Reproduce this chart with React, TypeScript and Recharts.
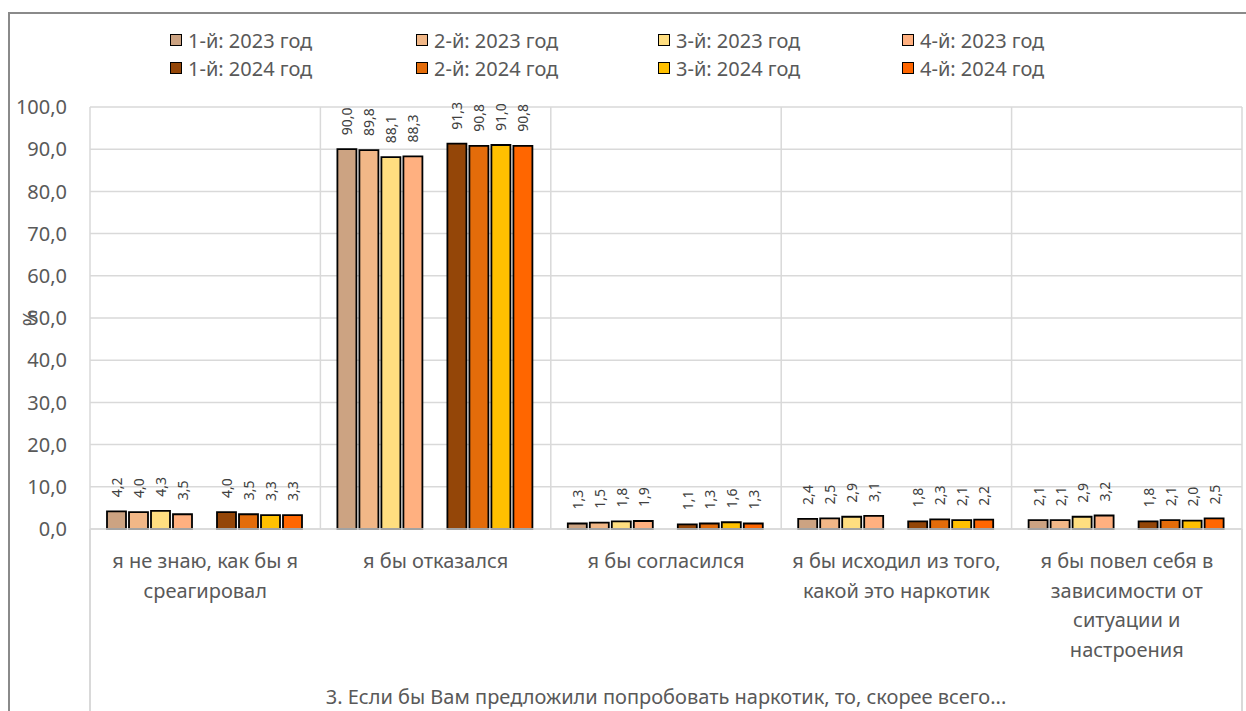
import { Bar, BarChart, CartesianGrid, LabelList, XAxis, YAxis } from 'recharts';

const categories = [
  'я не знаю, как бы я\nсреагировал',
  'я бы отказался',
  'я бы согласился',
  'я бы исходил из того,\nкакой это наркотик',
  'я бы повел себя в\nзависимости от\nситуации и\nнастроения',
];

const q1_2023 = [4.2, 90.0, 1.3, 2.4, 2.1];
const q2_2023 = [4.0, 89.8, 1.5, 2.5, 2.1];
const q3_2023 = [4.3, 88.1, 1.8, 2.9, 2.9];
const q4_2023 = [3.5, 88.3, 1.9, 3.1, 3.2];
const q1_2024 = [4.0, 91.3, 1.1, 1.8, 1.8];
const q2_2024 = [3.5, 90.8, 1.3, 2.3, 2.1];
const q3_2024 = [3.3, 91.0, 1.6, 2.1, 2.0];
const q4_2024 = [3.3, 90.8, 1.3, 2.2, 2.5];

const yTicks = [0, 10, 20, 30, 40, 50, 60, 70, 80, 90, 100];
const axisTitle = '3. Если бы Вам предложили попробовать наркотик, то, скорее всего...';

const series2023 = [
  { key: 'a1', name: '1-й: 2023 год', values: q1_2023, color: '#CCA382' },
  { key: 'a2', name: '2-й: 2023 год', values: q2_2023, color: '#F1B787' },
  { key: 'a3', name: '3-й: 2023 год', values: q3_2023, color: '#FFDE80' },
  { key: 'a4', name: '4-й: 2023 год', values: q4_2023, color: '#FFB080' },
];
const series2024 = [
  { key: 'b1', name: '1-й: 2024 год', values: q1_2024, color: '#944608' },
  { key: 'b2', name: '2-й: 2024 год', values: q2_2024, color: '#E36C0A' },
  { key: 'b3', name: '3-й: 2024 год', values: q3_2024, color: '#FFC000' },
  { key: 'b4', name: '4-й: 2024 год', values: q4_2024, color: '#FF6600' },
];
const allSeries = [...series2023, ...series2024];

const data = categories.map((name, i) => {
  const row: Record<string, string | number> = { name };
  allSeries.forEach((s) => (row[s.key] = s.values[i]));
  return row;
});

const FONT = '"Noto Sans", sans-serif';
const TEXT = '#595959';
const GRID = '#D9D9D9';
const fmt = (v: number) => v.toFixed(1).replace('.', ',');

function ValueLabel(props: any) {
  const { x, y, width, value } = props;
  if (value == null) return null;
  const cx = x + width / 2;
  const ty = y - 14;
  return (
    <text
      x={cx}
      y={ty}
      transform={`rotate(-90 ${cx} ${ty})`}
      textAnchor="start"
      dominantBaseline="central"
      fontSize={14}
      fontFamily={FONT}
      fill="#404040"
    >
      {fmt(Number(value))}
    </text>
  );
}

function CategoryTick(props: any) {
  const { x, y, payload } = props;
  const lines = String(payload.value).split('\n');
  return (
    <text x={x} y={y} textAnchor="middle" fontSize={20} fontFamily={FONT} fill={TEXT}>
      {lines.map((l, i) => (
        <tspan key={i} x={x} dy={i === 0 ? 39 : 29.5}>
          {l}
        </tspan>
      ))}
    </text>
  );
}

function PercentLabel(props: any) {
  const { viewBox } = props;
  const cx = viewBox.x + 29;
  const cy = viewBox.y + viewBox.height / 2;
  return (
    <text
      x={cx}
      y={cy}
      transform={`rotate(-90 ${cx} ${cy})`}
      textAnchor="middle"
      dominantBaseline="central"
      fontSize={20}
      fontFamily={FONT}
      fill={TEXT}
    >
      %
    </text>
  );
}

function LegendRow({ items, top }: { items: typeof series2023; top: number }) {
  const lefts = [170, 416, 658, 902];
  return (
    <>
      {items.map((s, i) => (
        <div
          key={s.key}
          style={{ position: 'absolute', left: lefts[i], top: top - 14, height: 28, display: 'flex', alignItems: 'center' }}
        >
          <span
            style={{ width: 10, height: 10, background: s.color, border: '1.5px solid #000', display: 'inline-block' }}
          />
          <span style={{ marginLeft: 6, fontSize: 20, color: TEXT, fontFamily: FONT, whiteSpace: 'nowrap' }}>
            {s.name}
          </span>
        </div>
      ))}
    </>
  );
}

export default function App() {
  return (
    <div style={{ position: 'fixed', left: 0, top: 0, width: 1246, height: 711, overflow: 'hidden', background: '#fff' }}>
      <div
        style={{
          position: 'absolute',
          left: 8,
          top: 12,
          width: 1300,
          height: 800,
          borderTop: '2px solid #8A8A8A',
          borderLeft: '2px solid #8A8A8A',
        }}
      />
      <LegendRow items={series2023} top={40} />
      <LegendRow items={series2024} top={68} />
      <div style={{ position: 'absolute', left: 0, top: 0 }}>
        <BarChart
          width={1246}
          height={711}
          data={data}
          margin={{ top: 107, right: 4, bottom: 0, left: 0 }}
          barCategoryGap={17}
          barGap={3}
          style={{ fontFamily: FONT }}
        >
          <CartesianGrid
            stroke={GRID}
            strokeWidth={1.5}
            verticalCoordinatesGenerator={({ offset }: any) =>
              [0, 1, 2, 3, 4, 5].map((i) => offset.left + (i * offset.width) / categories.length)
            }
          />
          <XAxis
            dataKey="name"
            height={182}
            axisLine={{ stroke: GRID, strokeWidth: 1.5 }}
            tickLine={false}
            tickSize={0}
            tickMargin={0}
            interval={0}
            tick={<CategoryTick />}
            label={{ value: axisTitle, position: 'insideBottom', offset: 7, fill: TEXT, fontSize: 20, fontFamily: FONT }}
          />
          <YAxis
            width={90}
            domain={[0, 100]}
            ticks={yTicks}
            axisLine={false}
            tickLine={false}
            tickSize={0}
            tickMargin={23}
            tickFormatter={fmt}
            tick={{ fill: TEXT, fontSize: 20, fontFamily: FONT }}
            label={<PercentLabel />}
          />
          {series2023.map((s) => (
            <Bar key={s.key} dataKey={s.key} name={s.name} fill={s.color} stroke="#000" strokeWidth={1.8} isAnimationActive={false}>
              <LabelList dataKey={s.key} content={<ValueLabel />} />
            </Bar>
          ))}
          <Bar dataKey="spacer" legendType="none" isAnimationActive={false} />
          {series2024.map((s) => (
            <Bar key={s.key} dataKey={s.key} name={s.name} fill={s.color} stroke="#000" strokeWidth={1.8} isAnimationActive={false}>
              <LabelList dataKey={s.key} content={<ValueLabel />} />
            </Bar>
          ))}
        </BarChart>
      </div>
      <div style={{ position: 'absolute', left: 89, top: 529, width: 1.5, height: 182, background: GRID }} />
      <div style={{ position: 'absolute', left: 1241, top: 529, width: 1.5, height: 182, background: GRID }} />
    </div>
  );
}
